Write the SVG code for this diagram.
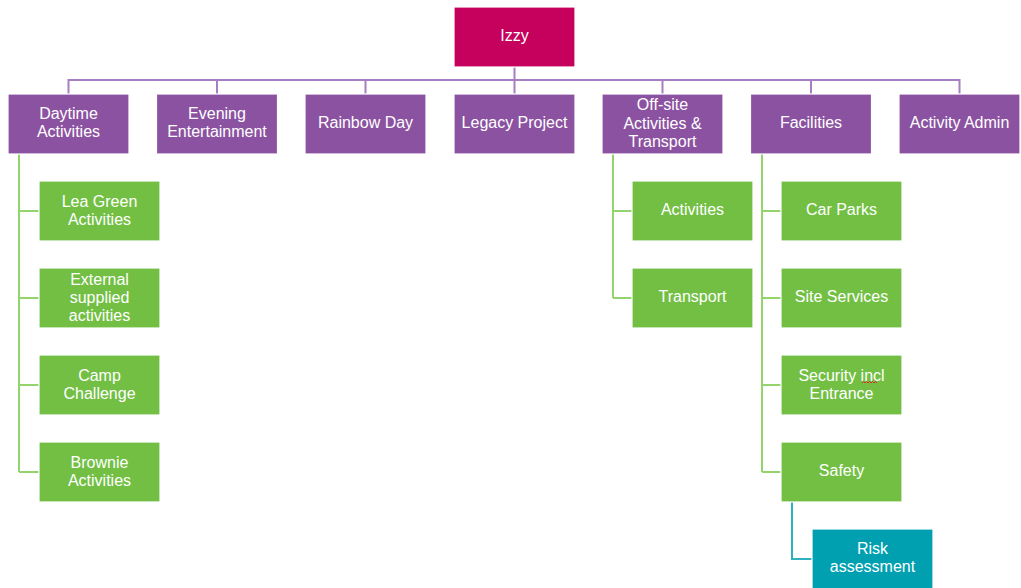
<svg xmlns="http://www.w3.org/2000/svg" width="1021" height="588" viewBox="0 0 1021 588">
<style>
.box{stroke:#ffffff;stroke-width:1.2}
.root{fill:#c5005d}
.p{fill:#8b52a1}
.g{fill:#72bf44}
.t{fill:#00a0b0}
text{font-family:"Liberation Sans",Arial,sans-serif;font-size:16px;fill:#ffffff;text-anchor:middle}
.lp{fill:none;stroke:#a67fc2;stroke-width:2}
.lg{fill:none;stroke:#93d46d;stroke-width:2}
.lt{fill:none;stroke:#2fb0c0;stroke-width:2}
</style>
<rect width="1021" height="588" fill="#ffffff"/>
<g id="connectors">
<path class="lp" d="M514.5,67V80M68.5,94V80H959.5V94M217,80V94M365.5,80V94M514.5,80V94M662.5,80V94M811,80V94"/>
<path class="lg" d="M19,154V472M19,211H39M19,298H39M19,385H39M19,472H39"/>
<path class="lg" d="M613,154V298M613,211H632M613,298H632"/>
<path class="lg" d="M762,154V472M762,211H781M762,298H781M762,385H781M762,472H781"/>
<path class="lt" d="M792,502V559H812"/>
</g>
<g id="izzy"><rect class="box root" x="454" y="7" width="121" height="60"/><text x="514.5" y="41">Izzy</text></g>
<g id="daytime"><rect class="box p" x="8" y="94" width="121" height="60"/><text x="68.5" y="118.5">Daytime</text><text x="68.5" y="136.5">Activities</text></g>
<g id="evening"><rect class="box p" x="156.5" y="94" width="121" height="60"/><text x="217" y="118.5">Evening</text><text x="217" y="136.5">Entertainment</text></g>
<g id="rainbow"><rect class="box p" x="305" y="94" width="121" height="60"/><text x="365.5" y="128">Rainbow Day</text></g>
<g id="legacy"><rect class="box p" x="454" y="94" width="121" height="60"/><text x="514.5" y="128">Legacy Project</text></g>
<g id="offsite"><rect class="box p" x="602" y="94" width="121" height="60"/><text x="662.5" y="110">Off-site</text><text x="662.5" y="128.5">Activities &amp;</text><text x="662.5" y="147">Transport</text></g>
<g id="facilities"><rect class="box p" x="750.5" y="94" width="121" height="60"/><text x="811" y="128">Facilities</text></g>
<g id="admin"><rect class="box p" x="899" y="94" width="121" height="60"/><text x="959.5" y="128">Activity Admin</text></g>
<g id="leagreen"><rect class="box g" x="39" y="181" width="121" height="60"/><text x="99.5" y="206.5">Lea Green</text><text x="99.5" y="224.5">Activities</text></g>
<g id="external"><rect class="box g" x="39" y="268" width="121" height="60"/><text x="99.5" y="285">External</text><text x="99.5" y="303">supplied</text><text x="99.5" y="321">activities</text></g>
<g id="camp"><rect class="box g" x="39" y="355" width="121" height="60"/><text x="99.5" y="380.5">Camp</text><text x="99.5" y="398.5">Challenge</text></g>
<g id="brownie"><rect class="box g" x="39" y="442" width="121" height="60"/><text x="99.5" y="467.5">Brownie</text><text x="99.5" y="485.5">Activities</text></g>
<g id="activities"><rect class="box g" x="632" y="181" width="121" height="60"/><text x="692.5" y="214.5">Activities</text></g>
<g id="transport"><rect class="box g" x="632" y="268" width="121" height="60"/><text x="692.5" y="301.5">Transport</text></g>
<g id="carparks"><rect class="box g" x="781" y="181" width="121" height="60"/><text x="841.5" y="214.5">Car Parks</text></g>
<g id="siteservices"><rect class="box g" x="781" y="268" width="121" height="60"/><text x="841.5" y="301.5">Site Services</text></g>
<g id="security"><rect class="box g" x="781" y="355" width="121" height="60"/><text x="841.5" y="380.5">Security incl</text><text x="841.5" y="398.5">Entrance</text><path d="M862,383l1.5,-1.5l1.5,1.5l1.5,-1.5l1.5,1.5l1.5,-1.5l1.5,1.5l1.5,-1.5l1.5,1.5l1.5,-1.5l1.5,1.5" fill="none" stroke="#e02020" stroke-width="0.9"/></g>
<g id="safety"><rect class="box g" x="781" y="442" width="121" height="60"/><text x="841.5" y="475.5">Safety</text></g>
<g id="risk"><rect class="box t" x="812" y="529" width="121" height="62"/><text x="872.5" y="553.5">Risk</text><text x="872.5" y="571.5">assessment</text></g>
</svg>
